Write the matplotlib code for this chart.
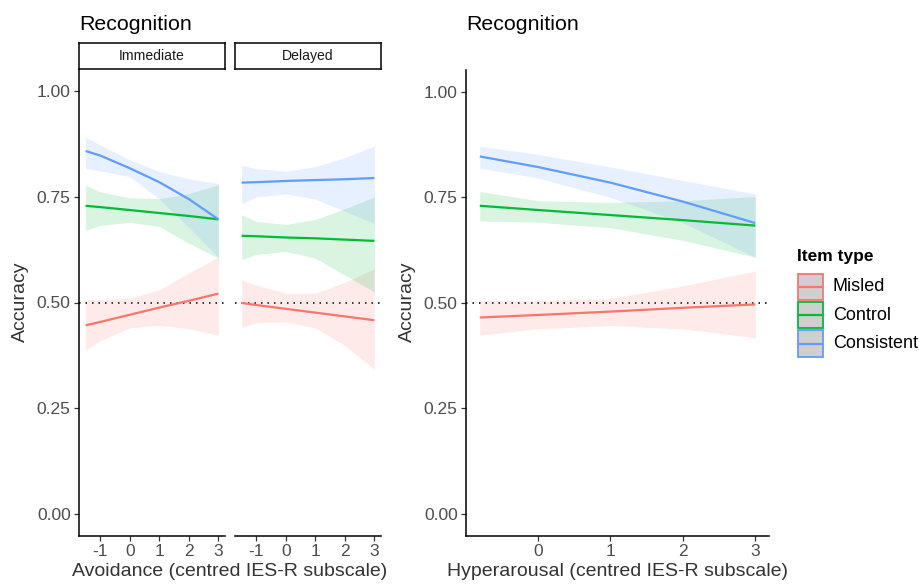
import matplotlib
matplotlib.use("Agg")
import matplotlib.pyplot as plt
from matplotlib.patches import Rectangle
from matplotlib.lines import Line2D

plt.rcParams['font.family'] = ['Liberation Sans', 'DejaVu Sans']

# ---------------- data ----------------
item_types = ["Misled", "Control", "Consistent"]
colors = {"Misled": "#F8766D", "Control": "#00BA38", "Consistent": "#619CFF"}

x_avoid = [-1.5, -1, 0, 1, 2, 3]
x_hyper = [-0.8, 0, 1, 2, 3]

# Avoidance - Immediate
imm_fit = {
    "Misled":     [0.446, 0.454, 0.471, 0.488, 0.504, 0.521],
    "Control":    [0.729, 0.726, 0.719, 0.712, 0.705, 0.697],
    "Consistent": [0.859, 0.848, 0.818, 0.785, 0.745, 0.697],
}
imm_lo = {
    "Misled":     [0.387, 0.410, 0.440, 0.446, 0.438, 0.422],
    "Control":    [0.671, 0.683, 0.690, 0.680, 0.640, 0.605],
    "Consistent": [0.817, 0.812, 0.798, 0.745, 0.678, 0.607],
}
imm_hi = {
    "Misled":     [0.507, 0.506, 0.510, 0.530, 0.570, 0.608],
    "Control":    [0.778, 0.762, 0.748, 0.746, 0.758, 0.779],
    "Consistent": [0.891, 0.873, 0.838, 0.810, 0.793, 0.782],
}

# Avoidance - Delayed
del_fit = {
    "Misled":     [0.499, 0.494, 0.485, 0.476, 0.467, 0.458],
    "Control":    [0.658, 0.657, 0.654, 0.652, 0.649, 0.646],
    "Consistent": [0.784, 0.785, 0.788, 0.790, 0.792, 0.795],
}
del_lo = {
    "Misled":     [0.441, 0.452, 0.454, 0.440, 0.398, 0.342],
    "Control":    [0.602, 0.614, 0.621, 0.605, 0.565, 0.525],
    "Consistent": [0.734, 0.750, 0.757, 0.745, 0.716, 0.687],
}
del_hi = {
    "Misled":     [0.554, 0.541, 0.522, 0.522, 0.548, 0.580],
    "Control":    [0.708, 0.692, 0.685, 0.697, 0.722, 0.750],
    "Consistent": [0.825, 0.817, 0.811, 0.822, 0.843, 0.871],
}

# Hyperarousal
hyp_fit = {
    "Misled":     [0.465, 0.471, 0.479, 0.488, 0.496],
    "Control":    [0.730, 0.720, 0.708, 0.696, 0.683],
    "Consistent": [0.847, 0.822, 0.785, 0.740, 0.689],
}
hyp_lo = {
    "Misled":     [0.423, 0.438, 0.446, 0.438, 0.417],
    "Control":    [0.694, 0.691, 0.678, 0.648, 0.608],
    "Consistent": [0.819, 0.796, 0.750, 0.690, 0.608],
}
hyp_hi = {
    "Misled":     [0.505, 0.505, 0.510, 0.540, 0.575],
    "Control":    [0.764, 0.742, 0.738, 0.742, 0.752],
    "Consistent": [0.871, 0.852, 0.822, 0.790, 0.758],
}

y_ticks = [0.00, 0.25, 0.50, 0.75, 1.00]
y_ticklabels = ["0.00", "0.25", "0.50", "0.75", "1.00"]
avoid_ticks = [-1, 0, 1, 2, 3]
hyper_ticks = [0, 1, 2, 3]
facet_labels = ["Immediate", "Delayed"]
title_text = "Recognition"
ylabel_text = "Accuracy"
xlabel_avoid = "Avoidance (centred IES-R subscale)"
xlabel_hyper = "Hyperarousal (centred IES-R subscale)"
legend_title = "Item type"
chance = 0.5

# ---------------- layout ----------------
W, H = 919, 584
fig = plt.figure(figsize=(W / 100, H / 100), dpi=100)


def rect(l, t, r, b):
    return [l / W, (H - b) / H, (r - l) / W, (b - t) / H]


TICK_COL = "#4d4d4d"
YLIM = (-0.052, 1.052)


def style_axes(ax, show_y):
    for s in ["top", "right"]:
        ax.spines[s].set_visible(False)
    ax.spines["bottom"].set_linewidth(1.1)
    ax.spines["left"].set_linewidth(1.1)
    if not show_y:
        ax.spines["left"].set_visible(False)
        ax.set_yticks([])
    else:
        ax.set_yticks(y_ticks)
        ax.set_yticklabels(y_ticklabels)
    ax.tick_params(axis="both", colors="#333333", labelcolor=TICK_COL,
                   labelsize=12.5, length=3.5, width=0.9, pad=2.5)
    ax.set_ylim(*YLIM)
    ax.set_facecolor("none")


def draw_panel(ax, xs, fit, lo, hi):
    ax.axhline(chance, color="black", lw=1.2, ls=(0, (0.9, 3.0)), zorder=1)
    for it in item_types:
        ax.fill_between(xs, lo[it], hi[it], color=colors[it], alpha=0.15,
                        lw=0, zorder=2)
    for it in item_types:
        ax.plot(xs, fit[it], color=colors[it], lw=1.6, zorder=3,
                solid_capstyle="butt")


ax_imm = fig.add_axes(rect(79, 69.5, 225, 535.5))
ax_del = fig.add_axes(rect(235, 69.5, 381, 535.5))
ax_hyp = fig.add_axes(rect(466, 70, 769, 535.5))

draw_panel(ax_imm, x_avoid, imm_fit, imm_lo, imm_hi)
draw_panel(ax_del, x_avoid, del_fit, del_lo, del_hi)
draw_panel(ax_hyp, x_hyper, hyp_fit, hyp_lo, hyp_hi)

for ax, showy in [(ax_imm, True), (ax_del, False), (ax_hyp, True)]:
    style_axes(ax, showy)

for ax in (ax_imm, ax_del):
    ax.set_xlim(-1.725, 3.225)
    ax.set_xticks(avoid_ticks)
    ax.set_xticklabels([str(t) for t in avoid_ticks])
ax_hyp.set_xlim(-0.99, 3.19)
ax_hyp.set_xticks(hyper_ticks)
ax_hyp.set_xticklabels([str(t) for t in hyper_ticks])

# strips
for (l, r), lab in zip([(79, 225), (235, 381)], facet_labels):
    sax = fig.add_axes(rect(l, 42.7, r, 69))
    sax.set_xticks([]); sax.set_yticks([])
    for s in sax.spines.values():
        s.set_linewidth(1.1)
        s.set_color("black")
    sax.text(0.5, 0.5, lab, ha="center", va="center", fontsize=10.1,
             color="#1a1a1a", transform=sax.transAxes)

# titles
fig.text(79 / W, (H - 29.5) / H, title_text, fontsize=15.4, ha="left",
         va="baseline", color="black")
fig.text(466 / W, (H - 29.5) / H, title_text, fontsize=15.4, ha="left",
         va="baseline", color="black")

# axis labels
fig.text(20 / W, (H - 302) / H, ylabel_text, rotation=90, fontsize=14,
         ha="center", va="center", color="#333333")
fig.text(407 / W, (H - 302) / H, ylabel_text, rotation=90, fontsize=14,
         ha="center", va="center", color="#333333")
fig.text(230 / W, (H - 571.5) / H, xlabel_avoid, fontsize=14,
         ha="center", va="center", color="#333333")
fig.text(617.5 / W, (H - 571.5) / H, xlabel_hyper, fontsize=14,
         ha="center", va="center", color="#333333")

# legend
fig.text(797 / W, (H - 256.5) / H, legend_title, fontsize=12.5, weight="bold",
         ha="left", va="center", color="black")
for i, it in enumerate(item_types):
    top = 273.5 + i * 28.4
    bx = Rectangle((797.5 / W, (H - top - 26.5) / H), 25.5 / W, 26.5 / H,
                   transform=fig.transFigure, facecolor="#cfcfcf",
                   edgecolor=colors[it], lw=1.3, alpha=1.0)
    fig.patches.append(bx)
    ymid = (H - top - 13.25) / H
    fig.lines.append(Line2D([799.5 / W, 821 / W], [ymid, ymid],
                            transform=fig.transFigure, color=colors[it], lw=1.6))
    fig.text(833 / W, ymid, it, fontsize=13, ha="left", va="center",
             color="black")

fig.savefig("out.png", dpi=100)
